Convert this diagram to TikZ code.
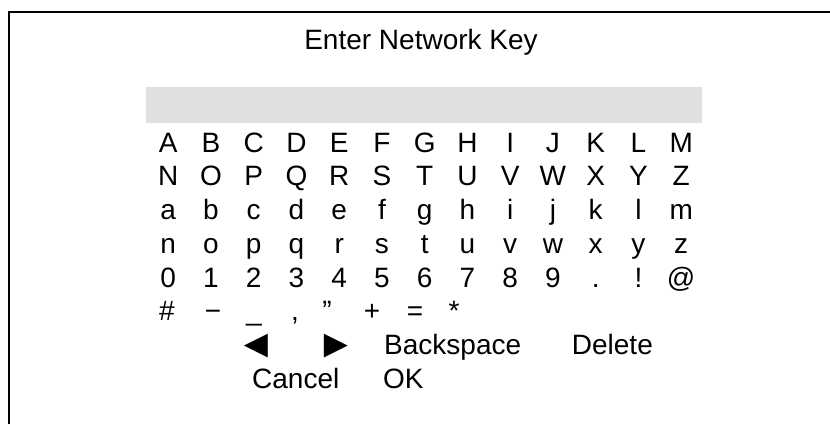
\documentclass[tikz,border=0pt]{standalone}
\usepackage{fontspec}
\setmainfont{Liberation Sans}
\usetikzlibrary{matrix}
\newcommand\keyfont{\fontsize{28pt}{28pt}\selectfont}

\begin{document}
\begin{tikzpicture}[
  x=1pt, y=-1pt,
  keytext/.style={font=\keyfont, inner sep=0pt, anchor=base}, % Plain key label
  arrowkey/.style={keytext, font=\fontsize{40pt}{40pt}\selectfont} % Larger cursor triangles
]

% Define colors for styling
\definecolor{barColor}{RGB}{224,224,224} % Light gray for the entry field

\useasboundingbox (0,0) rectangle (830,424);

% Frame (top and left edges only)
\draw[line width=2pt] (9,424) -- (9,12) -- (830,12);

% Title and entry field
\node[keytext] (title) at (421,49) {Enter Network Key};
\node[fill=barColor, inner sep=0pt, anchor=north west,
  minimum width=556.3pt, minimum height=36pt] (entry) at (145.7,86.5) {};

% Create the keyboard using a matrix
\matrix (keys) [
  matrix of nodes,
  anchor=north west,
  inner sep=0pt,
  nodes={
    inner sep=0pt,
    text height=24pt, % Space above the baseline
    text depth=9.7pt, % Space below the baseline
    minimum width=42.75pt, % Width of each key
    font=\keyfont
  },
  column sep=0pt,
  row sep=0pt
] at (146.6,128) {
  A & B & C & D & E & F & G & H & I & J & K & L & M \\
  N & O & P & Q & R & S & T & U & V & W & X & Y & Z \\
  a & b & c & d & e & f & g & h & i & j & k & l & m \\
  n & o & p & q & r & s & t & u & v & w & x & y & z \\
  0 & 1 & 2 & 3 & 4 & 5 & 6 & 7 & 8 & 9 & . & ! & @ \\
};

% Symbol row
\foreach \x/\c [count=\i] in {166.8/\#, 213/−, 254/\_, 295/{,}, 327/”, 372/+, 415/=, 454/*}
  \node[keytext] (sym-\i) at (\x,320.5) {\c};

% Cursor and editing keys
\node[arrowkey] (cursorleft) at (256,357) {◄};
\node[arrowkey] (cursorright) at (336,357) {►};
\node[keytext, anchor=base west] (backspace) at (384,354.2) {Backspace};
\node[keytext, anchor=base west] (delete) at (571.7,354.2) {Delete};

% Confirm keys
\node[keytext, anchor=base west] (cancel) at (252,388) {Cancel};
\node[keytext, anchor=base west] (ok) at (383,388) {OK};

\end{tikzpicture}
\end{document}
